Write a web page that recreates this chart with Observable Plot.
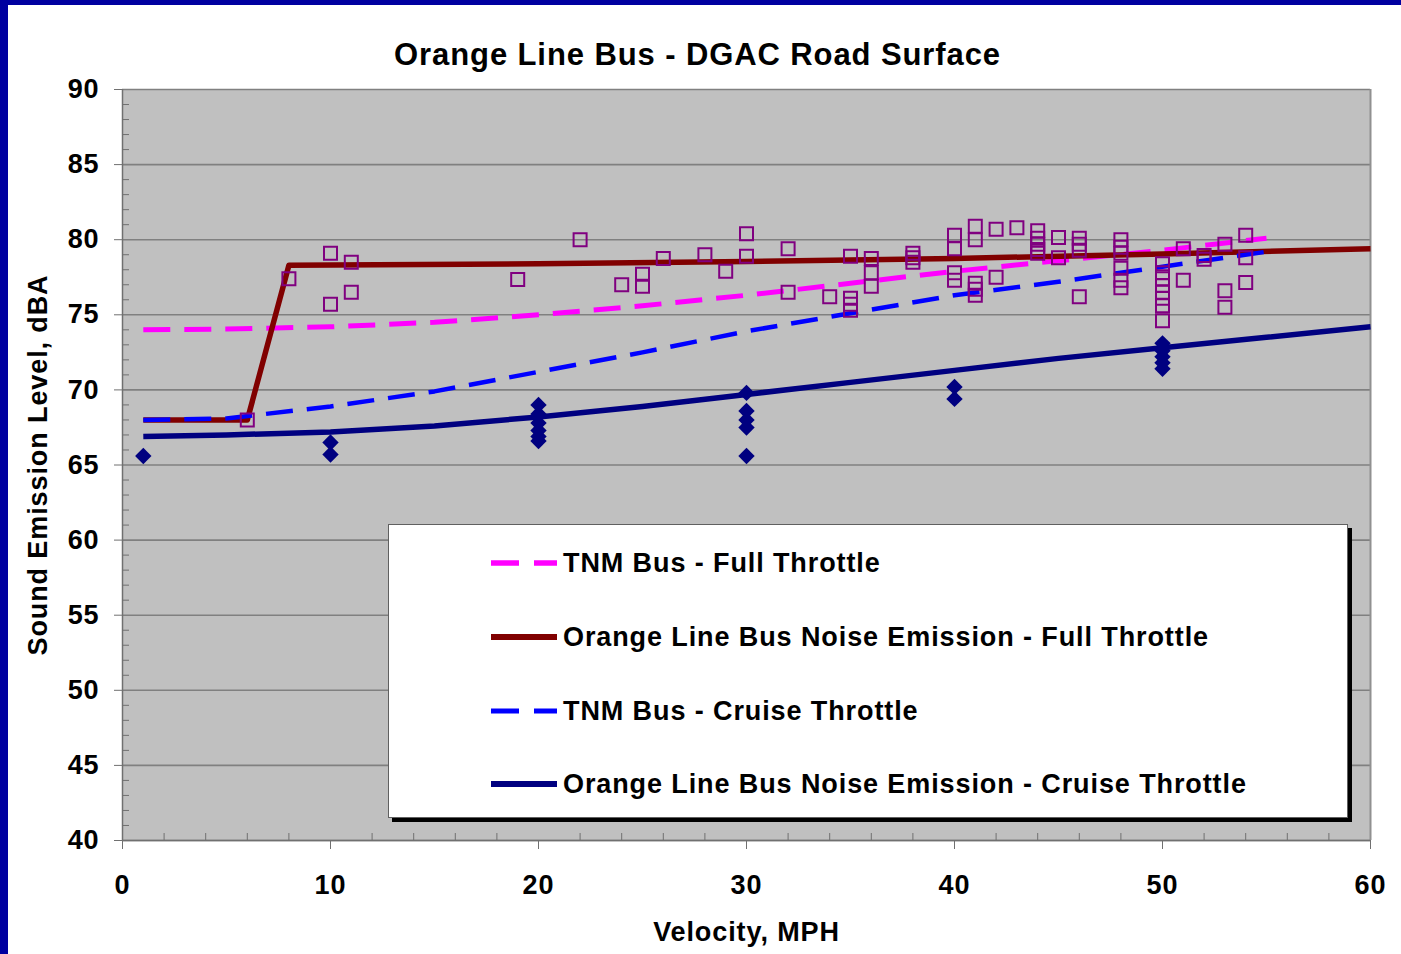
<!DOCTYPE html>
<html><head><meta charset="utf-8">
<script src="https://cdn.jsdelivr.net/npm/d3@7"></script>
<script src="https://cdn.jsdelivr.net/npm/@observablehq/plot@0.6"></script>
<style>
body{margin:0;background:#fff;}
#wrap{position:relative;width:1401px;height:954px;overflow:hidden;background:#fff;}
.bl{position:absolute;left:0;top:0;bottom:0;width:8px;background:#0000A0;}
.bt{position:absolute;left:0;top:0;right:0;height:5px;background:#0000A0;}
#legend{position:absolute;left:388px;top:524px;width:958px;height:292px;background:#fff;border:1px solid #606060;box-shadow:4px 4px 0 #000;font-family:"Liberation Sans",Arial,sans-serif;font-weight:bold;font-size:27px;letter-spacing:0.9px;color:#000;}
.row{position:absolute;left:100px;height:30px;display:flex;align-items:center;white-space:nowrap;}
.row svg{margin-right:4px;}
#chart{position:absolute;left:0;top:0;}
</style></head>
<body>
<div id="wrap">
  <div id="chart"></div>
  <div id="legend"></div>
  <div class="bl"></div><div class="bt"></div>
</div>
<script>
// ---- data ----
const titleText = "Orange Line Bus - DGAC Road Surface";
const xLabel = "Velocity, MPH";
const yLabel = "Sound Emission Level, dBA";
const xMajorTicks = [0, 10, 20, 30, 40, 50, 60];
const xMinorTicks = [2,4,6,8,12,14,16,18,22,24,26,28,32,34,36,38,42,44,46,48,52,54,56,58];
const yMajorTicks = [40, 45, 50, 55, 60, 65, 70, 75, 80, 85, 90];
const yMinorTicks = [41,42,43,44,46,47,48,49,51,52,53,54,56,57,58,59,61,62,63,64,66,67,68,69,71,72,73,74,76,77,78,79,81,82,83,84,86,87,88,89];

const seriesNames = [
  "TNM Bus - Full Throttle",
  "Orange Line Bus Noise Emission - Full Throttle",
  "TNM Bus - Cruise Throttle",
  "Orange Line Bus Noise Emission - Cruise Throttle"
];

// TNM Bus - Full Throttle (curve)
const tnmFullSpeed = [1, 5, 10, 15, 20, 25, 30, 35, 40, 45, 50, 55];
const tnmFullLevel = [74.0, 74.05, 74.2, 74.5, 75.0, 75.6, 76.3, 77.1, 77.9, 78.6, 79.3, 80.1];
// Orange Line Bus - Full Throttle (fit)
const olFullSpeed = [1, 6, 8, 20, 30, 40, 50, 60];
const olFullLevel = [68.0, 68.0, 78.3, 78.4, 78.55, 78.75, 79.05, 79.4];
// TNM Bus - Cruise Throttle (curve)
const tnmCruiseSpeed = [1, 5, 10, 15, 20, 25, 30, 35, 40, 45, 50, 55];
const tnmCruiseLevel = [68.0, 68.1, 68.9, 69.9, 71.2, 72.5, 73.9, 75.1, 76.3, 77.2, 78.2, 79.2];
// Orange Line Bus - Cruise Throttle (fit)
const olCruiseSpeed = [1, 5, 10, 15, 20, 25, 30, 35, 40, 45, 50, 55, 60];
const olCruiseLevel = [66.9, 67.0, 67.2, 67.6, 68.2, 68.9, 69.7, 70.5, 71.3, 72.1, 72.8, 73.5, 74.2];

// Measured points - full throttle (squares)
const fullPtSpeed = [6,8,10,10,11,11,19,22,24,25,25,26,28,29,30,30,32,32,
  34,35,35,35,35,36,36,36,38,38,38,
  40,40,40,40,41,41,41,41,41,42,42,43,
  44,44,44,44,44,45,45,46,46,46,46,
  48,48,48,48,48,48,
  50,50,50,50,50,50,50,50,
  51,51,52,52,53,53,53,54,54,54];
const fullPtLevel = [68.0,77.4,79.1,75.7,78.5,76.5,77.35,80.0,77.0,77.7,76.9,78.75,79.0,77.9,80.4,78.9,79.4,76.5,
  76.2,78.9,76.1,75.7,75.3,78.75,77.8,76.9,79.1,78.8,78.5,
  80.3,79.4,77.8,77.3,80.9,80.0,77.1,76.7,76.3,80.7,77.5,80.8,
  80.6,80.1,79.7,79.35,79.1,80.15,78.8,80.1,79.7,79.3,76.2,
  80.0,79.5,79.1,78.1,77.3,76.8,
  78.4,77.8,77.4,76.95,76.5,76.1,75.6,74.6,
  79.4,77.3,78.95,78.7,79.7,76.6,75.5,80.3,78.8,77.15];
// Measured points - cruise throttle (diamonds)
const cruisePtSpeed = [1,10,10,20,20,20,20,20,20,30,30,30,30,30,40,40,50,50,50,50,50];
const cruisePtLevel = [65.6,66.5,65.7,69.0,68.4,67.8,67.3,66.9,66.6,69.8,68.6,68.0,67.5,65.6,70.2,69.4,73.1,72.6,72.2,71.8,71.4];

// ---- tables ----
const zip = (xs, ys) => xs.map((s, i) => ({speed: s, level: ys[i]}));
const tnmFull = zip(tnmFullSpeed, tnmFullLevel);
const olFull = zip(olFullSpeed, olFullLevel);
const tnmCruise = zip(tnmCruiseSpeed, tnmCruiseLevel);
const olCruise = zip(olCruiseSpeed, olCruiseLevel);
const fullPts = zip(fullPtSpeed, fullPtLevel);
const cruisePts = zip(cruisePtSpeed, cruisePtLevel);

const styles = [
  {stroke: "#FF00FF", strokeWidth: 5, dash: "27,14"},
  {stroke: "#800000", strokeWidth: 5.5, dash: null},
  {stroke: "#0000FF", strokeWidth: 4.5, dash: "27,14"},
  {stroke: "#000080", strokeWidth: 5.5, dash: null}
];

const squareSym = {draw(ctx, size) { const r = Math.sqrt(size / Math.PI);
  ctx.moveTo(-r, -r); ctx.lineTo(r, -r); ctx.lineTo(r, r); ctx.lineTo(-r, r); ctx.closePath(); }};
const diamondSym = {draw(ctx, size) { const r = Math.sqrt(size / Math.PI);
  ctx.moveTo(0, -r); ctx.lineTo(r, 0); ctx.lineTo(0, r); ctx.lineTo(-r, 0); ctx.closePath(); }};

const font = '"Liberation Sans", Arial, sans-serif';
const lineOpts = (i) => ({x: "speed", y: "level", stroke: styles[i].stroke, strokeWidth: styles[i].strokeWidth,
  strokeDasharray: styles[i].dash, strokeLinecap: "butt", strokeLinejoin: "round"});

const chart = Plot.plot({
  width: 1401, height: 954,
  marginTop: 89, marginRight: 31, marginBottom: 114, marginLeft: 122,
  x: {domain: [0, 60]},
  y: {domain: [40, 90]},
  style: {fontFamily: font, fontWeight: "bold", fontSize: "27px", letterSpacing: "0.9px", color: "#000", background: "transparent", overflow: "visible"},
  marks: [
    Plot.frame({fill: "#C0C0C0", stroke: null}),
    Plot.gridY(yMajorTicks, {stroke: "#808080", strokeOpacity: 1, strokeWidth: 1.6}),
    Plot.ruleX([60], {stroke: "#909090", strokeWidth: 2}),
    Plot.ruleX([0], {stroke: "#707070", strokeWidth: 1.5}),
    Plot.ruleY([40], {stroke: "#707070", strokeWidth: 1.5}),
    Plot.axisY(yMinorTicks, {tickSize: -7, text: null, label: null, stroke: "#707070"}),
    Plot.axisX(xMinorTicks, {tickSize: -7, text: null, label: null, stroke: "#707070"}),
    Plot.axisY(yMajorTicks, {tickSize: 8, text: null, label: null, stroke: "#707070"}),
    Plot.axisX(xMajorTicks, {tickSize: 9, text: null, label: null, stroke: "#707070"}),
    Plot.axisY(yMajorTicks, {tickSize: 0, tickPadding: 23, label: null, fill: "#000"}),
    Plot.axisX(xMajorTicks, {tickSize: 0, tickPadding: 34, label: null, fill: "#000"}),
    Plot.line(tnmFull, lineOpts(0)),
    Plot.line(olFull, lineOpts(1)),
    Plot.line(tnmCruise, lineOpts(2)),
    Plot.line(olCruise, lineOpts(3)),
    Plot.dot(fullPts, {x: "speed", y: "level", symbol: squareSym, r: 6.5, stroke: "#800080", strokeWidth: 2, fill: "none"}),
    Plot.dot(cruisePts, {x: "speed", y: "level", symbol: diamondSym, r: 8.2, fill: "#000080", stroke: null}),
    Plot.text([titleText], {text: d => d, frameAnchor: "top", lineAnchor: "middle", textAnchor: "middle", dx: -49, dy: -34, fontSize: 31, letterSpacing: "1px", fill: "#000"}),
    Plot.text([xLabel], {text: d => d, frameAnchor: "bottom", lineAnchor: "middle", textAnchor: "middle", dy: 92, fill: "#000"}),
    Plot.text([yLabel], {text: d => d, frameAnchor: "left", lineAnchor: "middle", textAnchor: "middle", dx: -84, rotate: -90, fill: "#000"})
  ]
});
document.getElementById("chart").appendChild(chart);

// ---- legend ----
const legend = document.getElementById("legend");
const rowCenters = [38, 112, 186, 259];
seriesNames.forEach((name, i) => {
  const row = document.createElement("div");
  row.className = "row";
  row.style.top = (rowCenters[i] - 15) + "px";
  const s = styles[i];
  row.innerHTML = `<svg width="70" height="30"><line x1="2" x2="68" y1="15" y2="15" stroke="${s.stroke}" stroke-width="${s.strokeWidth + 0.5}" ${s.dash ? 'stroke-dasharray="28,15"' : ''}/></svg><span>${name}</span>`;
  legend.appendChild(row);
});
</script>
</body></html>
